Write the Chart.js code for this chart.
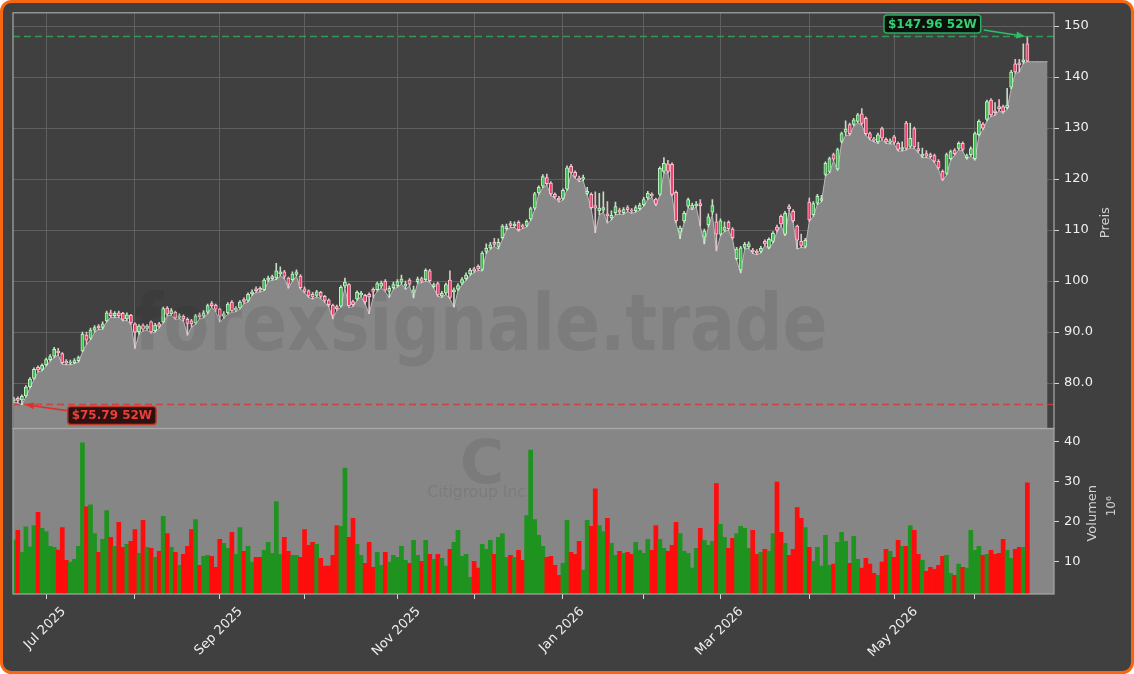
<!DOCTYPE html>
<html>
<head>
<meta charset="utf-8">
<script src="https://cdn.jsdelivr.net/npm/chart.js@4.4.1/dist/chart.umd.min.js"></script>
<style>
html, body { margin: 0; padding: 0; background: #ffffff; }
canvas { display: block; }
</style>
</head>
<body>
<canvas id="chart" width="1134" height="674"></canvas>
<script>
// ==========================
// DATA (one entry per trading day, 18 Jun 2025 .. 18 Jun 2026)
// ==========================
const opens = [
  76.5, 77.0, 76.7, 77.5, 79.3, 80.9, 83.1, 82.7, 83.6, 84.6,
  85.3, 86.3, 85.8, 84.3, 83.9, 84.0, 84.4, 86.3, 89.4, 88.8,
  90.4, 91.2, 90.9, 92.2, 93.8, 93.2, 93.8, 93.7, 92.6, 93.3,
  91.6, 90.1, 91.3, 90.7, 92.0, 90.3, 91.6, 92.0, 94.7, 93.6,
  93.9, 92.9, 93.1, 92.5, 92.2, 91.8, 93.4, 93.1, 93.9, 95.6,
  95.3, 94.5, 93.1, 93.8, 95.9, 94.3, 94.8, 96.4, 96.2, 97.5,
  98.5, 98.6, 98.3, 100.2, 100.5, 100.6, 101.4, 101.8, 100.6, 100.3,
  101.3, 101.0, 98.5, 98.1, 97.4, 97.2, 97.8, 97.0, 96.3, 95.3,
  95.0, 95.1, 99.0, 99.3, 96.0, 96.5, 97.3, 97.2, 97.4, 98.4,
  98.3, 99.0, 100.0, 98.0, 98.7, 99.1, 99.8, 99.0, 100.2, 97.8,
  99.9, 100.5, 100.3, 102.0, 98.9, 99.5, 97.1, 97.7, 100.2, 97.9,
  98.4, 99.6, 100.5, 101.4, 102.4, 102.9, 102.3, 105.8, 106.5, 107.6,
  106.8, 108.5, 110.3, 111.3, 110.8, 111.5, 110.9, 110.9, 112.2, 114.3,
  117.3, 118.6, 120.3, 119.2, 117.0, 116.3, 116.2, 118.0, 122.5, 121.3,
  120.2, 120.0, 117.2, 117.0, 114.8, 113.8, 113.9, 113.2, 112.4, 113.4,
  113.9, 113.4, 114.4, 113.9, 113.8, 114.2, 115.0, 116.3, 117.0, 116.1,
  117.0, 121.5, 123.0, 122.9, 117.4, 109.6, 111.8, 114.7, 114.3, 114.8,
  115.2, 108.6, 111.0, 113.5, 111.6, 109.2, 110.0, 111.5, 110.2, 104.4,
  102.2, 106.6, 106.7, 106.1, 105.9, 105.8, 107.8, 106.6, 107.8, 110.6,
  112.7, 109.2, 114.6, 113.7, 110.8, 107.8, 106.8, 115.5, 113.0, 115.3,
  115.8, 120.9, 121.5, 124.8, 122.0, 127.4, 129.2, 130.7, 130.7, 131.3,
  132.8, 131.9, 128.9, 127.9, 127.3, 129.9, 127.8, 127.2, 128.3, 127.0,
  125.8, 131.0, 126.4, 129.9, 126.0, 124.5, 125.0, 124.8, 124.6, 123.5,
  121.5, 121.1, 124.0, 125.7, 126.0, 127.0, 124.2, 124.8, 124.0, 128.7,
  130.8, 131.7, 135.5, 133.4, 134.2, 134.2, 134.0, 138.0, 142.6, 142.8,
  143.0, 146.5
];
const highs = [
  77.2, 77.3, 77.7, 79.5, 81.1, 83.0, 83.4, 83.8, 84.9, 85.6,
  87.0, 86.8, 86.0, 84.6, 84.5, 84.8, 85.3, 90.0, 90.0, 90.8,
  91.3, 91.5, 92.0, 94.1, 94.3, 94.0, 94.1, 93.9, 93.8, 93.5,
  91.8, 91.5, 91.6, 91.5, 92.2, 91.7, 91.9, 94.9, 95.0, 94.6,
  94.1, 93.6, 93.4, 92.8, 92.5, 93.5, 93.8, 94.2, 95.5, 96.0,
  95.5, 94.7, 94.0, 95.8, 96.2, 95.0, 96.2, 96.7, 97.7, 98.3,
  98.9, 98.9, 100.5, 101.0, 101.2, 103.5, 102.8, 102.1, 100.8, 101.8,
  102.2, 101.3, 98.9, 98.3, 97.8, 98.2, 98.0, 97.2, 96.5, 95.5,
  95.3, 99.1, 100.6, 99.5, 96.3, 98.1, 98.0, 97.4, 97.7, 98.7,
  99.8, 100.0, 100.3, 99.0, 99.8, 100.3, 101.2, 100.0, 100.5, 99.0,
  100.8, 100.8, 102.4, 102.3, 99.6, 99.8, 98.0, 99.6, 102.0, 98.7,
  99.5, 100.7, 101.6, 102.5, 102.7, 103.2, 105.8, 107.3, 107.6, 108.4,
  108.3, 111.1, 111.2, 111.7, 111.6, 111.8, 111.2, 112.0, 114.5, 117.4,
  118.7, 120.9, 121.0, 119.5, 117.3, 116.6, 118.1, 122.6, 122.9, 121.6,
  120.6, 120.8, 118.4, 117.3, 117.5, 117.2, 117.5, 115.6, 113.8, 115.5,
  114.3, 114.4, 114.8, 114.2, 114.8, 115.3, 116.4, 117.6, 117.3, 116.3,
  122.4, 124.2, 123.7, 123.2, 117.7, 110.8, 113.7, 116.3, 115.3, 115.6,
  116.0, 110.2, 113.2, 116.0, 113.2, 112.2, 111.6, 111.8, 110.5, 106.6,
  106.8, 107.6, 107.7, 106.4, 106.2, 106.8, 108.1, 108.5, 109.7, 111.0,
  113.0, 113.7, 115.0, 114.0, 111.0, 109.2, 108.4, 116.3, 115.6, 117.0,
  116.8, 123.4, 124.3, 125.1, 126.1, 129.2, 131.4, 131.0, 131.9, 132.9,
  133.8, 132.2, 129.2, 128.2, 129.0, 130.2, 128.1, 127.9, 128.6, 127.3,
  127.3, 131.3, 131.0, 130.2, 127.2, 126.1, 125.6, 125.1, 124.9, 123.8,
  121.8, 125.1, 125.7, 126.0, 127.3, 127.3, 124.9, 126.3, 129.2, 131.6,
  131.1, 135.5, 135.8, 135.0, 135.6, 134.5, 137.8, 141.3, 143.5, 143.5,
  146.5, 147.96
];
const lows = [
  76.2, 76.1, 75.79, 77.3, 79.0, 80.7, 82.2, 82.4, 83.3, 84.3,
  85.0, 85.5, 83.7, 83.6, 83.6, 83.8, 84.1, 86.1, 87.6, 88.5,
  90.0, 90.5, 90.6, 92.0, 92.9, 92.9, 92.9, 92.2, 92.3, 91.5,
  86.8, 89.6, 90.2, 90.4, 89.8, 90.0, 90.8, 91.8, 93.2, 93.3,
  92.5, 92.6, 92.2, 89.4, 91.0, 91.5, 92.6, 92.8, 93.6, 94.9,
  94.0, 92.0, 92.7, 93.5, 93.9, 94.0, 94.5, 95.6, 95.9, 97.2,
  97.8, 97.9, 98.1, 99.9, 100.2, 100.3, 101.0, 100.5, 98.6, 100.0,
  101.0, 98.4, 97.7, 96.8, 96.5, 96.9, 96.6, 95.8, 95.0, 92.6,
  94.2, 94.9, 98.7, 94.8, 95.0, 96.2, 97.0, 95.5, 93.6, 96.8,
  98.0, 98.7, 97.9, 96.8, 98.4, 98.8, 99.4, 98.4, 99.0, 96.7,
  99.6, 99.7, 100.0, 99.8, 98.6, 97.0, 96.8, 97.4, 96.5, 94.9,
  98.1, 99.3, 100.2, 101.1, 101.7, 102.1, 102.0, 105.4, 106.2, 106.8,
  106.3, 108.2, 110.0, 110.5, 110.5, 109.8, 110.3, 110.6, 111.9, 114.0,
  117.0, 118.3, 118.8, 116.8, 116.2, 115.5, 115.9, 117.8, 121.0, 120.2,
  119.5, 119.7, 116.9, 114.1, 109.5, 113.0, 113.5, 111.4, 112.0, 113.0,
  113.1, 113.1, 113.6, 113.3, 113.5, 113.9, 114.7, 116.0, 116.4, 114.8,
  116.8, 121.2, 121.2, 116.7, 111.4, 108.3, 111.5, 114.4, 114.0, 114.5,
  110.8, 107.3, 110.6, 113.0, 105.9, 108.9, 109.7, 110.0, 108.2, 104.1,
  101.6, 106.3, 106.4, 105.4, 105.2, 105.5, 107.0, 106.3, 107.5, 109.6,
  110.9, 108.9, 113.8, 111.5, 106.3, 106.6, 106.5, 111.7, 112.7, 115.0,
  115.5, 120.6, 121.2, 123.6, 121.7, 127.1, 128.6, 128.6, 130.4, 131.0,
  130.6, 128.6, 127.7, 127.3, 127.0, 127.7, 127.0, 126.9, 126.9, 125.5,
  125.5, 125.7, 126.1, 126.0, 125.2, 124.2, 124.2, 124.1, 123.2, 121.9,
  119.7, 120.8, 123.7, 124.7, 125.7, 125.5, 123.9, 124.5, 123.7, 128.4,
  129.7, 131.4, 132.3, 132.5, 133.4, 132.9, 133.7, 137.7, 140.7, 141.0,
  142.7, 143.0
];
const closes = [
  76.9, 76.6, 77.4, 79.2, 80.8, 82.7, 82.6, 83.5, 84.6, 85.2,
  86.6, 85.9, 84.0, 83.9, 84.1, 84.4, 85.0, 89.6, 88.4, 90.4,
  90.9, 90.8, 91.6, 93.8, 93.2, 93.7, 93.2, 92.5, 93.4, 91.8,
  90.0, 91.2, 90.6, 91.2, 90.1, 91.4, 91.1, 94.6, 93.5, 94.2,
  92.8, 93.2, 92.6, 91.7, 91.6, 93.2, 93.0, 93.8, 95.2, 95.2,
  94.5, 93.1, 93.6, 95.5, 94.2, 94.7, 95.9, 96.0, 97.4, 97.9,
  98.1, 98.2, 100.2, 100.6, 100.9, 102.0, 101.8, 100.9, 99.4, 101.4,
  101.8, 98.7, 98.0, 97.1, 96.9, 97.9, 97.0, 96.2, 95.4, 93.3,
  94.6, 98.8, 99.8, 95.2, 95.4, 97.8, 97.6, 95.9, 96.9, 98.0,
  99.5, 99.6, 98.2, 98.6, 99.3, 99.9, 100.4, 99.4, 99.4, 98.3,
  100.4, 100.0, 102.1, 100.1, 99.3, 97.3, 97.6, 99.3, 96.8, 98.3,
  99.1, 100.3, 101.2, 102.1, 102.0, 102.4, 105.5, 106.4, 107.1, 107.2,
  107.6, 110.8, 110.7, 110.9, 111.2, 110.1, 110.6, 111.7, 114.2, 117.1,
  118.4, 120.5, 119.1, 117.1, 116.5, 115.9, 117.8, 122.2, 121.3, 120.5,
  119.9, 120.3, 117.6, 114.4, 114.3, 114.3, 114.4, 112.8, 112.9, 114.6,
  113.5, 114.0, 114.0, 113.7, 114.4, 114.9, 116.0, 117.2, 116.7, 115.1,
  122.1, 123.1, 121.5, 117.0, 111.8, 110.4, 113.3, 116.0, 114.9, 115.1,
  114.8, 109.8, 112.6, 114.8, 109.2, 111.8, 110.6, 110.3, 108.5, 106.3,
  106.5, 107.2, 107.3, 105.7, 105.5, 106.4, 107.3, 108.2, 109.4, 110.0,
  111.2, 113.3, 114.2, 111.8, 108.0, 107.0, 108.0, 112.0, 115.2, 116.6,
  116.2, 123.1, 124.0, 123.9, 125.8, 128.9, 129.8, 128.9, 131.6, 132.6,
  130.9, 128.9, 128.0, 127.6, 128.7, 128.0, 127.3, 127.5, 127.2, 125.8,
  126.2, 126.0, 128.0, 126.3, 125.5, 124.9, 124.5, 124.4, 123.5, 122.2,
  120.0, 124.8, 125.4, 125.0, 127.0, 125.8, 124.6, 126.0, 128.9, 131.3,
  130.0, 135.2, 132.6, 133.0, 133.8, 133.2, 134.5, 141.0, 141.0, 142.4,
  143.4, 143.1
];
// volume in millions
const volumes = [
  15.3, 17.7, 12.2, 18.6, 13.6, 18.9, 22.2, 18.2, 17.4, 13.7,
  13.5, 12.8, 18.4, 10.2, 9.8, 10.5, 13.7, 39.6, 23.6, 24.1,
  16.9, 12.2, 15.5, 22.7, 16.0, 13.7, 19.7, 13.5, 14.2, 15.0,
  17.9, 12.0, 20.2, 13.5, 13.2, 11.0, 12.5, 21.2, 16.9, 13.5,
  12.2, 9.0, 11.7, 13.7, 17.9, 20.4, 9.0, 11.2, 11.5, 11.2,
  8.5, 15.5, 14.5, 13.2, 17.2, 11.7, 18.4, 12.5, 13.7, 9.8,
  11.0, 11.0, 12.7, 14.7, 12.0, 24.9, 11.7, 16.0, 12.5, 11.5,
  11.5, 11.0, 17.9, 14.0, 14.7, 14.2, 10.7, 8.8, 8.8, 11.5,
  18.9, 18.7, 33.3, 16.0, 20.7, 14.2, 11.5, 9.5, 14.7, 8.5,
  12.2, 9.0, 12.2, 9.8, 11.5, 11.0, 13.7, 10.2, 9.5, 15.2,
  11.5, 10.0, 15.2, 11.7, 10.5, 11.7, 10.7, 8.8, 13.0, 14.7,
  17.7, 11.2, 11.7, 6.0, 10.0, 8.3, 14.2, 13.0, 15.2, 11.7,
  16.0, 16.9, 11.0, 11.5, 11.0, 12.7, 10.2, 21.4, 37.8, 20.4,
  16.5, 13.7, 11.0, 11.2, 9.0, 6.5, 9.5, 20.2, 12.2, 11.7,
  15.0, 7.8, 20.2, 18.7, 28.1, 18.9, 17.4, 20.7, 14.5, 11.5,
  12.5, 12.0, 12.2, 11.7, 14.7, 12.7, 12.0, 15.5, 12.7, 18.9,
  15.5, 13.2, 12.5, 14.0, 19.7, 16.9, 12.5, 12.0, 8.3, 13.2,
  18.2, 15.2, 14.0, 15.0, 29.4, 19.2, 16.0, 13.2, 15.7, 16.9,
  18.7, 18.2, 13.2, 17.7, 11.7, 12.2, 13.0, 12.5, 16.9, 29.8,
  17.2, 14.5, 11.5, 13.0, 23.4, 20.7, 18.4, 13.5, 10.0, 13.5,
  8.8, 16.5, 9.0, 9.3, 14.7, 17.2, 15.0, 9.5, 16.2, 10.5,
  8.3, 10.7, 9.3, 7.0, 6.5, 9.8, 13.0, 12.5, 11.0, 15.2,
  13.7, 13.7, 18.9, 17.7, 11.7, 10.2, 7.5, 8.5, 8.0, 9.0,
  11.2, 11.5, 7.0, 6.5, 9.3, 8.5, 8.3, 17.7, 12.7, 13.7,
  11.5, 11.7, 12.7, 11.7, 12.0, 15.5, 12.7, 10.7, 13.0, 13.5,
  13.5, 29.6
];

// first trading day of each month (bar index) and its label
const monthTicks = [8, 30, 51, 72, 95, 114, 136, 156, 175, 197, 218, 238];
const monthLabels = ["Jul 2025", "", "Sep 2025", "", "Nov 2025", "", "Jan 2026", "", "Mar 2026", "", "May 2026", ""];

const priceTicks = [80, 90, 100, 110, 120, 130, 140, 150];
const priceTickLabels = ["80.0", "90.0", "100", "110", "120", "130", "140", "150"];
const volumeTicks = [10, 20, 30, 40];

const high52 = 147.96;
const low52 = 75.79;

// ==========================
// COLORS
// ==========================
const BG = "#404040";
const PANEL_GRAY = "#868686";
const AREA = "#878787";
const AREA_LINE = "#b9b9b9";
const GRID = "#606060";
const SPINE = "#a9a9a9";
const TEXT = "#efefef";
const TICK = "#d6d6d6";

const isUp = i => closes[i] >= opens[i];
const pick = (ctx, up, down, dflt) =>
    ctx.dataIndex == null ? dflt : (isUp(ctx.dataIndex) ? up : down);

// ==========================
// DATASETS
// ==========================
const bars = closes.map((c, i) => i);

const areaPoints = lows.map((v, i) => ({ x: i, y: v }));
// the shaded area runs on flat for a few bars after the last candle
const last = lows.length - 1;
for (let k = 1; k <= 5; k++) areaPoints.push({ x: last + k, y: lows[last] });

// ==========================
// DRAW HELPERS
// ==========================
function arrow(ctx, x0, y0, x1, y1, color) {
    const a = Math.atan2(y1 - y0, x1 - x0);
    ctx.strokeStyle = color;
    ctx.fillStyle = color;
    ctx.lineWidth = 1.6;
    ctx.beginPath();
    ctx.moveTo(x0, y0);
    ctx.lineTo(x1 - 6 * Math.cos(a), y1 - 6 * Math.sin(a));
    ctx.stroke();
    ctx.beginPath();
    ctx.moveTo(x1, y1);
    ctx.lineTo(x1 - 9 * Math.cos(a) + 3.5 * Math.sin(a), y1 - 9 * Math.sin(a) - 3.5 * Math.cos(a));
    ctx.lineTo(x1 - 9 * Math.cos(a) - 3.5 * Math.sin(a), y1 - 9 * Math.sin(a) + 3.5 * Math.cos(a));
    ctx.closePath();
    ctx.fill();
}

function tag(ctx, text, cx, cy, fill, border, color) {
    ctx.font = "bold 12px 'DejaVu Sans'";
    const w = ctx.measureText(text).width + 8;
    const h = 18;
    ctx.beginPath();
    ctx.roundRect(cx - w / 2, cy - h / 2, w, h, 3);
    ctx.fillStyle = fill;
    ctx.fill();
    ctx.lineWidth = 1.5;
    ctx.strokeStyle = border;
    ctx.stroke();
    ctx.fillStyle = color;
    ctx.textAlign = "center";
    ctx.textBaseline = "middle";
    ctx.fillText(text, cx, cy + 0.5);
    return w;
}

function vtext(ctx, text, x, y) {
    ctx.save();
    ctx.translate(x, y);
    ctx.rotate(-Math.PI / 2);
    ctx.textAlign = "center";
    ctx.textBaseline = "middle";
    ctx.fillText(text, 0, 0);
    ctx.restore();
}

// ==========================
// PLUGIN: panels, watermark, 52w marks, labels
// ==========================
const decor = {
    id: "decor",
    beforeDraw(chart) {
        const { ctx, width, height } = chart;
        ctx.save();
        ctx.fillStyle = "#ffffff";
        ctx.fillRect(0, 0, width, height);
        ctx.beginPath();
        ctx.roundRect(1.5, 1.5, width - 3, height - 3, 10);
        ctx.fillStyle = BG;
        ctx.fill();
        ctx.restore();
    },
    beforeDatasetsDraw(chart) {
        const { ctx, chartArea: a, scales } = chart;
        ctx.save();
        ctx.fillStyle = PANEL_GRAY;
        ctx.fillRect(a.left, scales.yv.top, a.right - a.left, scales.yv.bottom - scales.yv.top);
        ctx.restore();
    },
    afterDatasetsDraw(chart) {
        const { ctx, chartArea: a, scales } = chart;
        const x = scales.x, y = scales.y, yv = scales.yv;
        ctx.save();

        // watermark
        ctx.fillStyle = "rgba(25,25,25,0.10)";
        ctx.textAlign = "center";
        ctx.textBaseline = "alphabetic";
        ctx.font = "bold 78px 'DejaVu Sans'";
        ctx.fillText("forexsignale.trade", 481, 350, 693);
        ctx.font = "bold 60px 'DejaVu Sans'";
        ctx.fillText("C", 482, 483);
        ctx.font = "15.5px 'DejaVu Sans'";
        ctx.fillText("Citigroup Inc.", 479, 497);

        // 52 week high / low lines
        const yh = y.getPixelForValue(high52);
        const yl = y.getPixelForValue(low52);
        ctx.setLineDash([7, 4]);
        ctx.lineWidth = 1.5;
        ctx.strokeStyle = "rgba(46,170,90,0.85)";
        ctx.beginPath(); ctx.moveTo(a.left, yh); ctx.lineTo(a.right, yh); ctx.stroke();
        ctx.strokeStyle = "rgba(215,55,55,0.85)";
        ctx.beginPath(); ctx.moveTo(a.left, yl); ctx.lineTo(a.right, yl); ctx.stroke();
        ctx.setLineDash([]);

        // panel frames
        ctx.strokeStyle = SPINE;
        ctx.lineWidth = 1.2;
        ctx.strokeRect(a.left, y.top, a.right - a.left, y.bottom - y.top);
        ctx.strokeRect(a.left, yv.top, a.right - a.left, yv.bottom - yv.top);

        // annotations
        const iHigh = highs.indexOf(Math.max(...highs));
        const iLow = lows.indexOf(Math.min(...lows));
        const hx = x.getPixelForValue(iHigh) - 2;
        const lx = x.getPixelForValue(iLow) + 3;

        const gcx = hx - 93, gcy = yh - 12.5;
        const gw = tag(ctx, "$" + high52.toFixed(2) + " 52W", gcx, gcy, "rgba(6,14,8,0.93)", "#27ae60", "#34d072");
        arrow(ctx, gcx + gw / 2 + 3, gcy + 6, hx, yh, "#2ebd68");

        const rcx = lx + 87, rcy = yl + 11;
        const rw = tag(ctx, "$" + low52.toFixed(2) + " 52W", rcx, rcy, "rgba(38,8,8,0.93)", "#c0392b", "#e8403a");
        arrow(ctx, rcx - rw / 2 - 1, rcy - 5, lx, yl, "#e0302e");

        ctx.restore();
    },
    afterDraw(chart) {
        const { ctx, chartArea: a, scales, width, height } = chart;
        const x = scales.x, y = scales.y, yv = scales.yv;
        ctx.save();

        // month labels, rotated 45 degrees and centred under the tick
        ctx.font = "13px 'DejaVu Sans'";
        ctx.fillStyle = TEXT;
        monthTicks.forEach((t, k) => {
            const lab = monthLabels[k];
            if (!lab) return;
            const px = x.getPixelForValue(t);
            const w = ctx.measureText(lab).width;
            const half = (w + 13) * Math.SQRT1_2 / 2;
            ctx.save();
            ctx.translate(px - 1, a.bottom + 11 + half);
            ctx.rotate(-Math.PI / 4);
            ctx.textAlign = "center";
            ctx.textBaseline = "middle";
            ctx.fillText(lab, 0, 0);
            ctx.restore();
        });

        // axis titles
        ctx.fillStyle = "#d2d2d2";
        ctx.font = "13px 'DejaVu Sans'";
        vtext(ctx, "Preis", 1106, (y.top + y.bottom) / 2 + 2);
        vtext(ctx, "Volumen", 1093, (yv.top + yv.bottom) / 2 + 2);
        ctx.font = "12px 'DejaVu Sans'";
        vtext(ctx, "10\u2076", 1112, (yv.top + yv.bottom) / 2 - 5);

        // orange frame
        ctx.beginPath();
        ctx.roundRect(1.5, 1.5, width - 3, height - 3, 10);
        ctx.lineWidth = 3;
        ctx.strokeStyle = "#f8660f";
        ctx.stroke();
        ctx.restore();
    }
};

// ==========================
// CHART
// ==========================
Chart.defaults.font.family = "'DejaVu Sans', sans-serif";

new Chart(document.getElementById("chart"), {
    type: "bar",
    data: {
        datasets: [
            {
                type: "line",
                label: "Tief",
                data: areaPoints,
                yAxisID: "y",
                fill: "start",
                backgroundColor: AREA,
                borderColor: AREA_LINE,
                borderWidth: 1,
                pointRadius: 0,
                tension: 0,
                order: 4
            },
            {
                label: "Docht",
                data: bars.map(i => ({ x: i, y: [lows[i], highs[i]] })),
                yAxisID: "y",
                grouped: false,
                barThickness: 1,
                backgroundColor: ctx => pick(ctx, "rgba(210,238,212,0.9)", "rgba(240,205,215,0.9)", "#ddd"),
                order: 3
            },
            {
                label: "Kerze",
                data: bars.map(i => ({ x: i, y: [opens[i], closes[i]] })),
                yAxisID: "y",
                grouped: false,
                barThickness: 3.2,
                minBarLength: 1,
                borderWidth: 1,
                borderSkipped: false,
                borderColor: ctx => pick(ctx, "#c4efc8", "#f7c6d2", "#ddd"),
                backgroundColor: ctx => pick(ctx, "#3fba4c", "#ef3d6a", "#aaa"),
                order: 2
            },
            {
                label: "Volumen",
                data: bars.map(i => ({ x: i, y: volumes[i] })),
                yAxisID: "yv",
                grouped: false,
                barPercentage: 1,
                categoryPercentage: 1,
                backgroundColor: ctx => pick(ctx, "#1f931f", "#ff0d0d", "#888"),
                order: 1
            }
        ]
    },
    options: {
        responsive: false,
        animation: false,
        devicePixelRatio: 1,
        layout: { padding: { left: 13, top: 11, right: 0, bottom: 0 } },
        plugins: {
            legend: { display: false },
            tooltip: { enabled: false }
        },
        scales: {
            x: {
                type: "linear",
                min: -0.2,
                max: 257.6,
                offset: false,
                afterBuildTicks: s => { s.ticks = monthTicks.map(v => ({ value: v })); },
                afterFit: s => { s.height = 80; },
                ticks: { autoSkip: false, maxRotation: 0, minRotation: 0, padding: 0, callback: () => "" },
                grid: { offset: false, color: GRID, lineWidth: 1, tickLength: 5, tickColor: TICK },
                border: { display: false }
            },
            y: {
                type: "linear",
                position: "right",
                stack: "panes",
                stackWeight: 2.512,
                min: 71.1,
                max: 152.6,
                afterBuildTicks: s => { s.ticks = priceTicks.map(v => ({ value: v })); },
                afterFit: s => { s.width = 80; },
                ticks: {
                    color: TEXT,
                    font: { size: 13 },
                    padding: 5,
                    callback: v => priceTickLabels[priceTicks.indexOf(v)]
                },
                grid: { color: GRID, lineWidth: 1, tickLength: 5, tickColor: TICK },
                border: { display: false }
            },
            yv: {
                type: "linear",
                position: "right",
                stack: "panes",
                stackWeight: 1,
                min: 1.8,
                max: 43.2,
                afterBuildTicks: s => { s.ticks = volumeTicks.map(v => ({ value: v })); },
                afterFit: s => { s.width = 80; },
                ticks: { color: TEXT, font: { size: 13 }, padding: 5, callback: v => String(v) },
                grid: { drawOnChartArea: false, tickLength: 5, tickColor: TICK },
                border: { display: false }
            }
        }
    },
    plugins: [decor]
});
</script>
</body>
</html>
